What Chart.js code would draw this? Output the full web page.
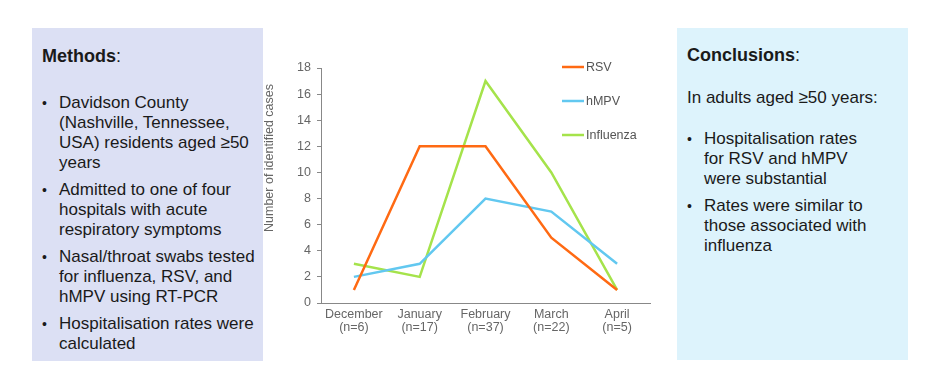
<!DOCTYPE html>
<html>
<head>
<meta charset="utf-8">
<script src="https://cdn.jsdelivr.net/npm/chart.js@4.4.1/dist/chart.umd.min.js"></script>
<style>
  html, body { margin:0; padding:0; background:#ffffff; }
  body { width:940px; height:389px; position:relative; overflow:hidden;
         font-family:'Liberation Sans', Arial, Helvetica, sans-serif; color:#1a1a1a; }
  #wrap { position:absolute; left:0; top:0; width:940px; height:389px; }
  .panel { position:absolute; box-sizing:border-box; }
  #methods { left:32px; top:28px; width:231px; height:333px; background:#dce0f4; }
  #concl { left:677px; top:28px; width:231px; height:332px; background:#ddf3fc; }
  .head { position:absolute; left:10px; font-size:18px; line-height:22px; font-weight:bold; white-space:nowrap; }
  .head span { font-weight:normal; }
  .line { position:absolute; font-size:17px; line-height:20px; white-space:nowrap; }
  ul { list-style:none; margin:0; padding:0; position:absolute; left:0; }
  li { position:relative; padding-left:27px; font-size:17px; line-height:20px; white-space:nowrap; margin-bottom:7px; }
  li::before { content:'•'; position:absolute; left:10px; top:0; font-size:14px; }
</style>
</head>
<body>
<div id="wrap"><canvas id="c" width="940" height="389"></canvas></div>

<div class="panel" id="methods">
  <div class="head" style="top:17px">Methods<span>:</span></div>
  <ul style="top:65px">
    <li>Davidson County<br>(Nashville, Tennessee,<br>USA) residents aged ≥50<br>years</li>
    <li>Admitted to one of four<br>hospitals with acute<br>respiratory symptoms</li>
    <li>Nasal/throat swabs tested<br>for influenza, RSV, and<br>hMPV using RT-PCR</li>
    <li>Hospitalisation rates were<br>calculated</li>
  </ul>
</div>

<div class="panel" id="concl">
  <div class="head" style="top:16px">Conclusions<span>:</span></div>
  <div class="line" style="left:10px;top:60px">In adults aged ≥50 years:</div>
  <ul style="top:101px">
    <li>Hospitalisation rates<br>for RSV and hMPV<br>were substantial</li>
    <li>Rates were similar to<br>those associated with<br>influenza</li>
  </ul>
</div>

<script>
const categories = [["December","(n=6)"],["January","(n=17)"],["February","(n=37)"],["March","(n=22)"],["April","(n=5)"]];
const rsv = [1, 12, 12, 5, 1];
const hmpv = [2, 3, 8, 7, 3];
const influenza = [3, 2, 17, 10, 1];
const seriesNames = ["RSV", "hMPV", "Influenza"];
const seriesColors = ["#ff6a13", "#62c8f0", "#a5e34b"];
const yTitle = "Number of identified cases";

const FONT = "'Liberation Sans', Arial, Helvetica, sans-serif";

const legendPlugin = {
  id: 'inlineLegend',
  afterDraw(chart) {
    const ctx = chart.ctx;
    const ys = [67, 101, 135];
    ctx.save();
    ctx.font = '12.5px ' + FONT;
    ctx.textBaseline = 'middle';
    ctx.textAlign = 'left';
    chart.data.datasets.forEach((ds, i) => {
      ctx.strokeStyle = ds.borderColor;
      ctx.lineWidth = 2.5;
      ctx.beginPath();
      ctx.moveTo(562, ys[i]);
      ctx.lineTo(584, ys[i]);
      ctx.stroke();
      ctx.fillStyle = '#555555';
      ctx.fillText(ds.label, 586, ys[i] + 0.5);
    });
    ctx.restore();
  }
};

const yTitlePlugin = {
  id: 'yTitle',
  afterDraw(chart) {
    const ctx = chart.ctx;
    ctx.save();
    ctx.translate(270, 158);
    ctx.rotate(-Math.PI / 2);
    ctx.font = '12.5px ' + FONT;
    ctx.fillStyle = '#666666';
    ctx.textAlign = 'center';
    ctx.textBaseline = 'middle';
    ctx.fillText(yTitle, 0, 0);
    ctx.restore();
  }
};

new Chart(document.getElementById('c'), {
  type: 'line',
  data: {
    labels: categories,
    datasets: [rsv, hmpv, influenza].map((d, i) => ({
      label: seriesNames[i],
      data: d,
      borderColor: seriesColors[i],
      backgroundColor: seriesColors[i],
      borderWidth: 2.5,
      pointRadius: 0,
      tension: 0,
      fill: false
    }))
  },
  options: {
    responsive: false,
    animation: false,
    layout: { padding: { left: 0, top: 68, right: 290, bottom: 0 } },
    plugins: { legend: { display: false }, tooltip: { enabled: false } },
    scales: {
      x: {
        offset: true,
        grid: { display: false, drawTicks: false },
        border: { display: true, color: '#888888', width: 1 },
        ticks: { color: '#666666', font: { family: FONT, size: 12.5, lineHeight: 1.05 }, padding: 5, maxRotation: 0, autoSkip: false },
        afterFit(s) { s.height = 86; }
      },
      y: {
        min: 0, max: 18,
        grid: { display: true, drawOnChartArea: false, drawTicks: true, tickLength: 4, color: '#888888' },
        border: { display: true, color: '#888888', width: 1 },
        ticks: { stepSize: 2, color: '#666666', font: { family: FONT, size: 12.5 }, padding: 6 },
        afterFit(s) { s.width = 321; }
      }
    }
  },
  plugins: [legendPlugin, yTitlePlugin]
});
</script>
</body>
</html>
